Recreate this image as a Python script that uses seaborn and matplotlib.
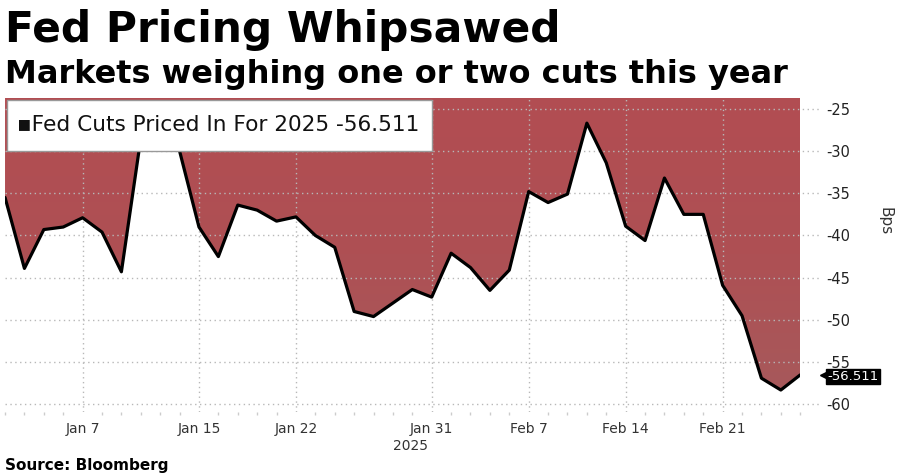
import numpy as np
import pandas as pd
import matplotlib
matplotlib.use('Agg')
import matplotlib.pyplot as plt
import matplotlib.transforms as mtransforms
from matplotlib.colors import LinearSegmentedColormap
from matplotlib.patches import Rectangle
import seaborn as sns

# ---- data ----
dates = pd.bdate_range('2025-01-01', '2025-02-27')
values = [
    -35.5, -43.9, -39.3, -39.0, -37.9, -39.6, -44.3, -28.5, -27.5, -30.0,
    -39.0, -42.5, -36.4, -37.0, -38.3, -37.8, -40.0, -41.4, -49.0, -49.6,
    -48.0, -46.4, -47.3, -42.1, -43.8, -46.5, -44.1, -34.8, -36.1, -35.1,
    -26.7, -31.4, -38.9, -40.6, -33.2, -37.5, -37.5, -45.9, -49.5, -56.9,
    -58.3, -56.511,
]
tick_dates = ['2025-01-07', '2025-01-15', '2025-01-22', '2025-01-31',
              '2025-02-07', '2025-02-14', '2025-02-21']
tick_labels = ['Jan 7', 'Jan 15', 'Jan 22', 'Jan 31', 'Feb 7', 'Feb 14', 'Feb 21']
y_ticks = [-25, -30, -35, -40, -45, -50, -55, -60]
series_name = 'Fed Cuts Priced In For 2025'

df = pd.DataFrame({'date': dates, 'value': values})
df['idx'] = np.arange(len(df))

sns.set_theme(style='white')
plt.rcParams['font.family'] = ['DejaVu Sans']

fig = plt.figure(figsize=(8.98, 4.76), dpi=100)
ax = fig.add_axes([0.0056, 0.1345, 0.8855, 0.66])

ymin, ymax = -60.9, -23.7
ax.set_xlim(0, len(df) - 1)
ax.set_ylim(ymin, ymax)

# red fill above the line with a slight gradient
poly = ax.fill_between(df['idx'], df['value'], ymax, color='none', linewidth=0)
cmap = LinearSegmentedColormap.from_list('fill', ['#A65A5C', '#AE5054', '#B24D52'])
grad = np.linspace(0, 1, 256).reshape(-1, 1)
im = ax.imshow(grad, cmap=cmap, aspect='auto', origin='lower',
               extent=[0, len(df) - 1, ymin, ymax], zorder=1)
im.set_clip_path(poly.get_paths()[0], transform=ax.transData)

# grid (dotted)
for y in y_ticks:
    ax.axhline(y, xmin=0, xmax=1.025, color='#b8b8b8', lw=1.0,
               ls=(0, (1, 2.5)), zorder=2, clip_on=False)
tick_idx = [df.index[df['date'] == pd.Timestamp(d)][0] for d in tick_dates]
for t in tick_idx:
    ax.axvline(t, color='#b8b8b8', lw=1.0, ls=(0, (1, 2.5)), zorder=2)

sns.lineplot(data=df, x='idx', y='value', ax=ax, color='black', lw=2.3, zorder=3)

# axes styling
for s in ax.spines.values():
    s.set_visible(False)
ax.set_xlabel('')
ax.set_ylabel('')
ax.set_xticks(tick_idx)
ax.set_xticklabels(tick_labels, fontsize=10, color='#333333')
ax.set_xticks(df['idx'], minor=True)
ax.tick_params(axis='x', which='major', length=0, pad=7)
ax.tick_params(axis='x', which='minor', length=2, color='#cccccc', width=1,
               bottom=True)
ax.yaxis.tick_right()
ax.set_yticks(y_ticks)
ax.set_yticklabels([str(v) for v in y_ticks], fontsize=10.5, color='#222222')
ax.tick_params(axis='y', length=0, pad=19)

trans = mtransforms.blended_transform_factory(ax.transData, ax.transAxes)
ax.text(20.9, -0.085, '2025', transform=trans, ha='center', va='top',
        fontsize=10, color='#333333')

fig.text(0.985, 0.535, 'Bps', rotation=270, ha='center', va='center',
         fontsize=11, color='#333333')

# legend box
ax.add_patch(Rectangle((0.0025, 0.831), 0.535, 0.163, transform=ax.transAxes,
                       fc='white', ec='#999999', lw=1, zorder=5, clip_on=False))
ax.text(0.0155, 0.912, '\u25aa' + series_name + ' ' + f'{values[-1]:.3f}',
        transform=ax.transAxes, ha='left', va='center', fontsize=15.6,
        color='#111111', zorder=6)

# last value tag
ytrans = mtransforms.blended_transform_factory(ax.transAxes, ax.transData)
ax.plot([1.031], [values[-1]], marker='<', ms=7, color='black',
        transform=ytrans, clip_on=False, zorder=6)
ax.text(1.034, values[-1] - 0.15, f'{values[-1]:.3f}', transform=ytrans,
        ha='left', va='center', fontsize=9.5, color='white', zorder=6,
        bbox=dict(boxstyle='square,pad=0.08', fc='black', ec='black'))

# titles / source
fig.text(0.006, 0.912, 'Fed Pricing Whipsawed', fontsize=30.5,
         fontweight='bold', color='black', ha='left', va='baseline')
fig.text(0.006, 0.826, 'Markets weighing one or two cuts this year',
         fontsize=23, fontweight='bold', color='black', ha='left', va='baseline')
fig.text(0.006, 0.012, 'Source: Bloomberg', fontsize=11, fontweight='bold',
         color='black', ha='left', va='baseline')

fig.savefig('out.png', dpi=100)
